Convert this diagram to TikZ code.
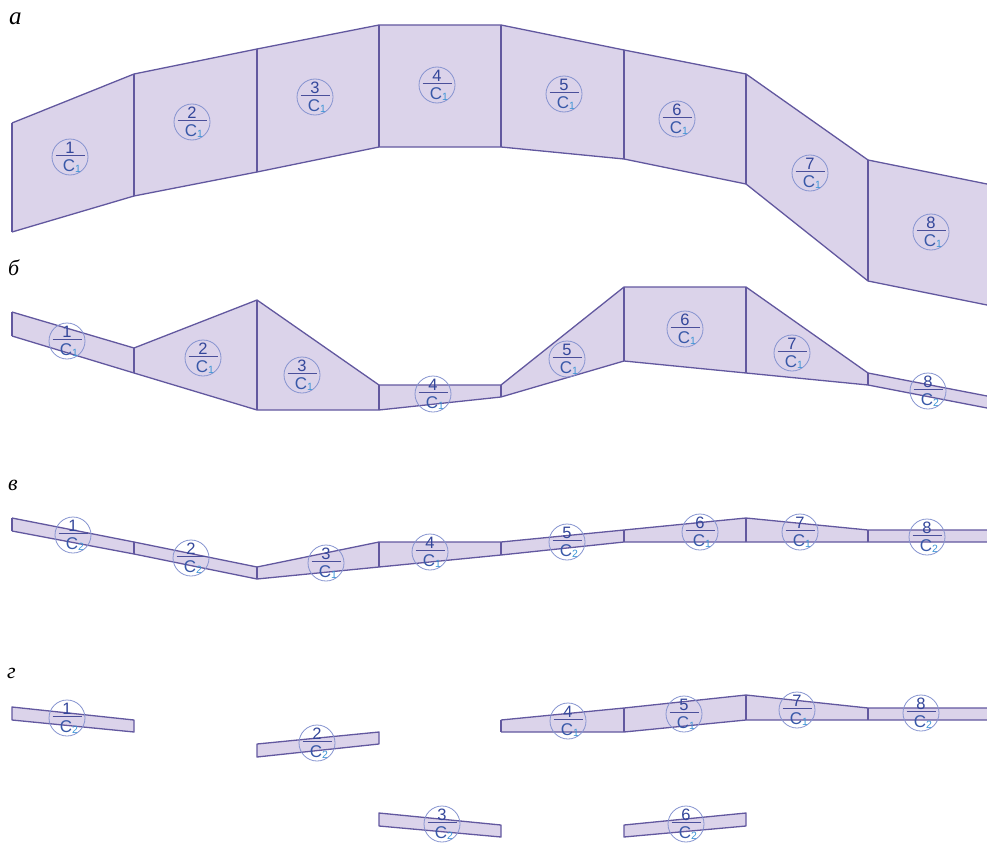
\documentclass[tikz,border=0pt]{standalone}
\usepackage{fontspec}
\setmainfont{Liberation Serif}
\newfontfamily\lblfont{Liberation Sans}
\definecolor{lav}{HTML}{DBD3EA}
\definecolor{edge}{HTML}{62589F}
\definecolor{numc}{HTML}{33469A}
\definecolor{cc}{HTML}{3858A8}
\definecolor{subc}{HTML}{3D95D6}
\definecolor{circc}{HTML}{8694D0}
\definecolor{barc}{HTML}{4A4F9A}
\tikzset{
  x=1pt, y=-1pt,
  band/.style={fill=lav, draw=none},
  edgeline/.style={draw=edge, line width=1.3pt, line join=round},
  divline/.style={draw=edge, line width=1.2pt},
  pics/lab/.style n args={2}{code={
    \node[circle, draw=circc, line width=0.8pt, minimum size=36pt, inner sep=0pt] (-c) at (0,0) {};
    \draw[barc, line width=0.9pt] (-14.5,-1.5) -- (14.5,-1.5);
    \node[anchor=base, inner sep=0pt, text=numc, font=\lblfont\fontsize{16.5}{16.5}\selectfont] (-n) at (0,-3.5) {#1};
    \node[anchor=base, inner sep=0pt, font=\lblfont\fontsize{17}{17}\selectfont] (-d) at (2,14.8) {\textcolor{cc}{C}\raisebox{-1pt}{\textcolor{subc}{\fontsize{10.5}{10.5}\selectfont #2}}};
  }},
  plabel/.style={anchor=base west, inner sep=0pt, font=\itshape\fontsize{22}{22}\selectfont}
}
\begin{document}
\begin{tikzpicture}
\useasboundingbox (0,0) rectangle (987,843);

% ---------- panel a ----------
\node[plabel, font=\itshape\fontsize{25}{25}\selectfont] (la) at (9,25) {а};
\fill[band] (12,123)--(134,74)--(257,49)--(379,25)--(501,25)--(624,50)--(746,74)--(868,160)--(987,184)
  --(987,305)--(868,281)--(746,184)--(624,159)--(501,147)--(379,147)--(257,172)--(134,196)--(12,232)--cycle;
\draw[edgeline] (12,123)--(134,74)--(257,49)--(379,25)--(501,25)--(624,50)--(746,74)--(868,160)--(987,184);
\draw[edgeline] (12,232)--(134,196)--(257,172)--(379,147)--(501,147)--(624,159)--(746,184)--(868,281)--(987,305);
\draw[divline] (12,123)--(12,232) (134,74)--(134,196) (257,49)--(257,172) (379,25)--(379,147)
  (501,25)--(501,147) (624,50)--(624,159) (746,74)--(746,184) (868,160)--(868,281);
\pic (a1) at (70,157) {lab={1}{1}};
\pic (a2) at (192,122) {lab={2}{1}};
\pic (a3) at (315,97) {lab={3}{1}};
\pic (a4) at (437,85) {lab={4}{1}};
\pic (a5) at (564,94) {lab={5}{1}};
\pic (a6) at (677,119) {lab={6}{1}};
\pic (a7) at (810,173) {lab={7}{1}};
\pic (a8) at (931,232) {lab={8}{1}};

% ---------- panel b ----------
\node[plabel] (lb) at (8,275) {б};
\fill[band] (12,312)--(134,348)--(257,300)--(379,385)--(501,385)--(624,287)--(746,287)--(868,373)--(987,396)
  --(987,408)--(868,385)--(746,373)--(624,361)--(501,397)--(379,410)--(257,410)--(134,373)--(12,336)--cycle;
\draw[edgeline] (12,312)--(134,348)--(257,300)--(379,385)--(501,385)--(624,287)--(746,287)--(868,373)--(987,396);
\draw[edgeline] (12,336)--(134,373)--(257,410)--(379,410)--(501,397)--(624,361)--(746,373)--(868,385)--(987,408);
\draw[divline] (12,312)--(12,336) (134,348)--(134,373) (257,300)--(257,410) (379,385)--(379,410)
  (501,385)--(501,397) (624,287)--(624,361) (746,287)--(746,373) (868,373)--(868,385);
\pic (b1) at (67,341) {lab={1}{1}};
\pic (b2) at (203,358) {lab={2}{1}};
\pic (b3) at (302,375) {lab={3}{1}};
\pic (b4) at (433,394) {lab={4}{1}};
\pic (b5) at (567,359) {lab={5}{1}};
\pic (b6) at (685,329) {lab={6}{1}};
\pic (b7) at (792,353) {lab={7}{1}};
\pic (b8) at (928,391) {lab={8}{2}};

% ---------- panel v ----------
\node[plabel] (lv) at (8,490) {в};
\fill[band] (12,518)--(134,542)--(257,567)--(379,542)--(501,542)--(624,530)--(746,518)--(868,530)--(987,530)
  --(987,542)--(868,542)--(746,542)--(624,542)--(501,555)--(379,567)--(257,579)--(134,554)--(12,531)--cycle;
\draw[edgeline] (12,518)--(134,542)--(257,567)--(379,542)--(501,542)--(624,530)--(746,518)--(868,530)--(987,530);
\draw[edgeline] (12,531)--(134,554)--(257,579)--(379,567)--(501,555)--(624,542)--(746,542)--(868,542)--(987,542);
\draw[divline] (12,518)--(12,531) (134,542)--(134,554) (257,567)--(257,579) (379,542)--(379,567)
  (501,542)--(501,555) (624,530)--(624,542) (746,518)--(746,542) (868,530)--(868,542);
\pic (v1) at (73,535) {lab={1}{2}};
\pic (v2) at (191,558) {lab={2}{2}};
\pic (v3) at (326,563) {lab={3}{1}};
\pic (v4) at (430,552) {lab={4}{1}};
\pic (v5) at (567,542) {lab={5}{2}};
\pic (v6) at (700,532) {lab={6}{1}};
\pic (v7) at (800,532) {lab={7}{1}};
\pic (v8) at (927,537) {lab={8}{2}};

% ---------- panel g ----------
\node[plabel] (lg) at (7,678) {г};
\filldraw[band, edgeline] (12,707)--(134,720)--(134,732)--(12,720)--cycle;
\filldraw[band, edgeline] (257,744)--(379,732)--(379,744)--(257,757)--cycle;
\filldraw[band, edgeline] (379,813)--(501,825)--(501,837)--(379,826)--cycle;
\filldraw[band, edgeline] (624,825)--(746,813)--(746,826)--(624,837)--cycle;
\fill[band] (501,720)--(624,708)--(746,695)--(868,708)--(987,708)
  --(987,720)--(868,720)--(746,720)--(624,732)--(501,732)--cycle;
\draw[edgeline] (501,720)--(624,708)--(746,695)--(868,708)--(987,708);
\draw[edgeline] (501,732)--(624,732)--(746,720)--(868,720)--(987,720);
\draw[divline] (501,720)--(501,732) (624,708)--(624,732) (746,695)--(746,720) (868,708)--(868,720);
\pic (g1) at (67,718) {lab={1}{2}};
\pic (g2) at (317,743) {lab={2}{2}};
\pic (g3) at (442,824) {lab={3}{2}};
\pic (g4) at (568,721) {lab={4}{1}};
\pic (g5) at (684,714) {lab={5}{1}};
\pic (g7) at (797,710) {lab={7}{1}};
\pic (g8) at (921,713) {lab={8}{2}};
\pic (g6) at (686,824) {lab={6}{2}};
\end{tikzpicture}
\end{document}
